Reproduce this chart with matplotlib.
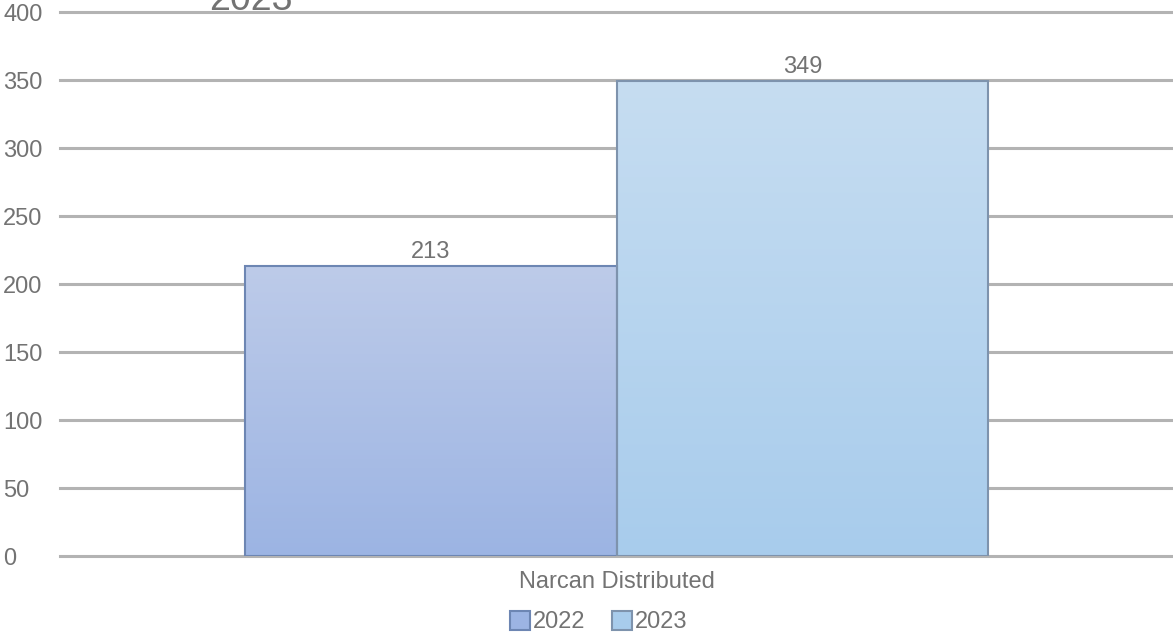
import numpy as np
import matplotlib.pyplot as plt
from matplotlib.colors import LinearSegmentedColormap

plt.rcParams['font.family'] = ['Liberation Sans', 'DejaVu Sans']

category = 'Narcan Distributed'
years = ['2022', '2023']
values = [213, 349]
yticks = [0, 50, 100, 150, 200, 250, 300, 350, 400]

# gradient colours (top, bottom) and edges per series
top_colors = ['#bdcbe9', '#c6ddf1']
bottom_colors = ['#9cb4e3', '#a8ccec']
edge_colors = ['#6d86b3', '#7e93ad']
txt = '#737373'
fs = 17

fig = plt.figure(figsize=(11.73, 6.35), dpi=100)
ax = fig.add_axes([0.0512, 0.1244, 0.9488, 0.8567])

width = 0.334
offsets = [-width/2, width/2]
handles = []
for i, (yr, v) in enumerate(zip(years, values)):
    x = offsets[i]
    bar = ax.bar(x, v, width=width, color='none', edgecolor=edge_colors[i],
                 linewidth=1.5, zorder=3)[0]
    cmap = LinearSegmentedColormap.from_list('g%d' % i, [bottom_colors[i], top_colors[i]])
    grad = np.linspace(0, 1, 256).reshape(-1, 1)
    im = ax.imshow(grad, extent=[x - width/2, x + width/2, 0, v], origin='lower',
                   cmap=cmap, aspect='auto', zorder=2)
    im.set_clip_path(bar)
    ax.text(x, v + 2.5, str(v), ha='center', va='bottom', fontsize=fs, color=txt)
    handles.append(plt.Rectangle((0, 0), 1, 1, facecolor=bottom_colors[i],
                                 edgecolor=edge_colors[i], linewidth=1.5))

ax.set_xlim(-0.5, 0.5)
ax.set_ylim(0, 400)
ax.set_yticks(yticks)
ax.set_yticklabels([str(t) for t in yticks], fontsize=fs, color=txt, ha='left')
ax.set_xticks([0])
ax.set_xticklabels([category], fontsize=fs, color=txt)
ax.tick_params(axis='x', length=0, pad=11)
ax.tick_params(axis='y', length=0, pad=41)
ax.yaxis.grid(True, color='#b3b3b3', linewidth=2.2, zorder=1)
for gl in ax.get_ygridlines():
    gl.set_clip_on(False)
ax.set_axisbelow(True)
for s in ax.spines.values():
    s.set_visible(False)

fig.text(0.2135, 1 - 10/635, '2023', fontsize=27, color=txt, ha='center', va='baseline')

fig.legend(handles, years, loc='center', bbox_to_anchor=(0.5105, 1 - 622/635), ncol=2,
           frameon=False, fontsize=fs, labelcolor=txt, handlelength=0.85,
           handleheight=0.85, handletextpad=0.1, columnspacing=1.15)

fig.savefig('out.png', dpi=100)
